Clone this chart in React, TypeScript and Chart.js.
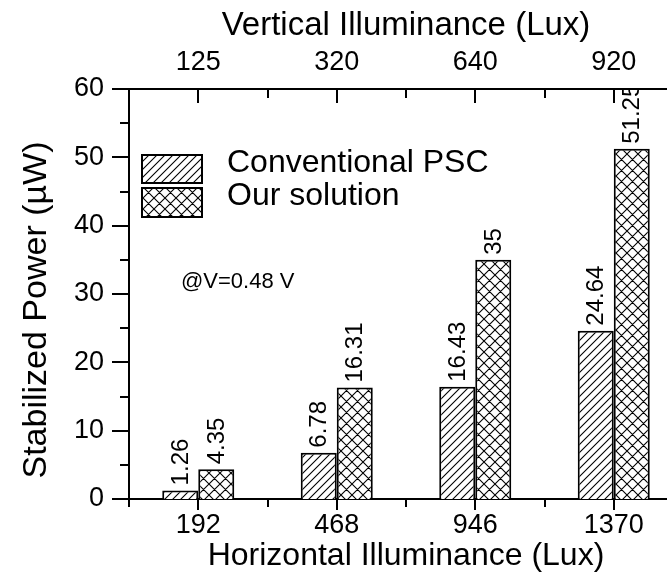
import React, { useEffect, useRef } from "react";
import { Chart, registerables } from "chart.js";

Chart.register(...registerables);

const categories = ["192", "468", "946", "1370"];
const topLabels = ["125", "320", "640", "920"];
const conventional = [1.26, 6.78, 16.43, 24.64];
const ours = [4.35, 16.31, 35, 51.25];
const seriesNames = ["Conventional PSC", "Our solution"];
const annotationText = "@V=0.48 V";
const yTitle = "Stabilized Power (µW)";

const FONT = '"Liberation Sans", Arial, sans-serif';

function makePattern(ctx: CanvasRenderingContext2D, size: number, cross: boolean) {
  const c = document.createElement("canvas");
  c.width = size;
  c.height = size;
  const g = c.getContext("2d")!;
  g.fillStyle = "#ffffff";
  g.fillRect(0, 0, size, size);
  g.strokeStyle = "#000000";
  g.lineWidth = 1.1;
  g.beginPath();
  g.moveTo(-1, size + 1);
  g.lineTo(size + 1, -1);
  g.moveTo(-1, 1);
  g.lineTo(1, -1);
  g.moveTo(size - 1, size + 1);
  g.lineTo(size + 1, size - 1);
  if (cross) {
    g.moveTo(-1, -1);
    g.lineTo(size + 1, size + 1);
    g.moveTo(size - 1, -1);
    g.lineTo(size + 1, 1);
    g.moveTo(-1, size - 1);
    g.lineTo(1, size + 1);
  }
  g.stroke();
  return ctx.createPattern(c, "repeat")!;
}

const extras = {
  id: "extras",
  afterDatasetsDraw(chart: any) {
    const { ctx, chartArea } = chart;
    ctx.save();
    ctx.beginPath();
    ctx.rect(chartArea.left, chartArea.top, chartArea.right - chartArea.left, chartArea.bottom - chartArea.top);
    ctx.clip();
    ctx.fillStyle = "#000";
    ctx.font = `24px ${FONT}`;
    ctx.textAlign = "left";
    ctx.textBaseline = "middle";
    chart.data.datasets.forEach((ds: any, di: number) => {
      const meta = chart.getDatasetMeta(di);
      meta.data.forEach((bar: any, i: number) => {
        const p = bar.getProps(["x", "y"], true);
        ctx.save();
        ctx.translate(p.x + 1, p.y - 5);
        ctx.rotate(-Math.PI / 2);
        ctx.fillText(String(ds.data[i]), 0, 0);
        ctx.restore();
      });
    });
    ctx.restore();
  },
  afterDraw(chart: any) {
    const { ctx, chartArea, scales } = chart;
    const { left, top, bottom } = chartArea;
    const x = scales.x;
    const y = scales.y;
    ctx.save();
    ctx.strokeStyle = "#000";
    ctx.lineWidth = 2;
    ctx.beginPath();
    for (let v = 0; v <= 60; v += 5) {
      const py = Math.round(y.getPixelForValue(v));
      const len = v % 10 === 0 ? 17 : 9;
      ctx.moveTo(left - len, py);
      ctx.lineTo(left, py);
    }
    for (let i = 0; i < categories.length; i++) {
      const px = Math.round(x.getPixelForValue(i));
      ctx.moveTo(px, bottom);
      ctx.lineTo(px, bottom + 11);
      ctx.moveTo(px, top);
      ctx.lineTo(px, top + 14);
    }
    for (let i = 0; i <= categories.length; i++) {
      const px = Math.round(x.getPixelForValue(i - 0.5));
      ctx.moveTo(px, bottom);
      ctx.lineTo(px, bottom + 8);
      ctx.moveTo(px, top);
      ctx.lineTo(px, top + 9);
    }
    ctx.stroke();

    // y axis title
    ctx.fillStyle = "#000";
    ctx.font = `34px ${FONT}`;
    ctx.textAlign = "center";
    ctx.textBaseline = "middle";
    ctx.save();
    ctx.translate(37, (top + bottom) / 2 + 16);
    ctx.rotate(-Math.PI / 2);
    ctx.fillText(yTitle, 0, 0);
    ctx.restore();

    // legend
    const ds = chart.data.datasets;
    const bx = left + 13;
    const boxes = [
      { y: top + 66, h: 28 },
      { y: top + 99, h: 29 },
    ];
    ctx.font = `32px ${FONT}`;
    ctx.textAlign = "left";
    ctx.textBaseline = "middle";
    boxes.forEach((b, i) => {
      ctx.fillStyle = ds[i].backgroundColor;
      ctx.beginPath();
      ctx.rect(bx, b.y, 60, b.h);
      ctx.fill();
      ctx.lineWidth = 2;
      ctx.strokeStyle = "#000";
      ctx.stroke();
      ctx.fillStyle = "#000";
      ctx.fillText(seriesNames[i], bx + 85, b.y + b.h / 2 - 6);
    });

    ctx.font = `22px ${FONT}`;
    ctx.textBaseline = "alphabetic";
    ctx.fillText(annotationText, left + 52, top + 199);
    ctx.restore();
  },
};

export default function App() {
  const ref = useRef<HTMLCanvasElement>(null);
  useEffect(() => {
    const canvas = ref.current!;
    const ctx = canvas.getContext("2d")!;
    const hatch = makePattern(ctx, 8, false);
    const cross = makePattern(ctx, 11, true);
    Chart.defaults.font.family = FONT;
    Chart.defaults.color = "#000";
    const chart = new Chart(canvas, {
      type: "bar",
      data: {
        labels: categories,
        datasets: [
          {
            label: seriesNames[0],
            data: conventional,
            backgroundColor: hatch as any,
            borderColor: "#000",
            borderWidth: 2,
            categoryPercentage: 0.52,
            barPercentage: 1,
          },
          {
            label: seriesNames[1],
            data: ours,
            backgroundColor: cross as any,
            borderColor: "#000",
            borderWidth: 2,
            categoryPercentage: 0.52,
            barPercentage: 1,
          },
        ],
      },
      options: {
        animation: false,
        responsive: false,
        devicePixelRatio: 1,
        layout: { padding: { left: 0, right: 17, top: 0, bottom: 0 } },
        plugins: { legend: { display: false }, tooltip: { enabled: false } },
        scales: {
          x: {
            type: "category",
            position: "bottom",
            grid: { display: false, drawTicks: false },
            border: { display: true, color: "#000", width: 2 },
            ticks: { font: { size: 27, family: FONT }, color: "#000", padding: 10, maxRotation: 0, autoSkip: false },
            title: {
              display: true,
              text: "Horizontal Illuminance (Lux)",
              font: { size: 32, family: FONT },
              color: "#000",
              padding: { top: 0, bottom: 4 },
            },
            afterFit: (s: any) => {
              s.height = 80;
            },
          },
          x2: {
            type: "category",
            position: "top",
            labels: topLabels,
            offset: true,
            grid: { display: false, drawTicks: false },
            border: { display: true, color: "#000", width: 2 },
            ticks: { font: { size: 27, family: FONT }, color: "#000", padding: 10, maxRotation: 0, autoSkip: false },
            title: {
              display: true,
              text: "Vertical Illuminance (Lux)",
              font: { size: 33, family: FONT },
              color: "#000",
              padding: { top: 6, bottom: 0 },
            },
            afterFit: (s: any) => {
              s.height = 89;
            },
          },
          y: {
            min: 0,
            max: 60,
            grid: { display: false, drawTicks: false },
            border: { display: true, color: "#000", width: 2 },
            ticks: { stepSize: 10, font: { size: 27, family: FONT }, color: "#000", padding: 25 },
            title: { display: false },
            afterFit: (s: any) => {
              s.width = 129;
            },
          },
        },
      },
      plugins: [extras],
    });
    return () => chart.destroy();
  }, []);
  return (
    <div
      style={{
        position: "fixed",
        left: 0,
        top: 0,
        width: 667,
        height: 579,
        overflow: "hidden",
        background: "#fff",
      }}
    >
      <canvas ref={ref} width={700} height={579} style={{ width: 700, height: 579, display: "block" }} />
    </div>
  );
}
